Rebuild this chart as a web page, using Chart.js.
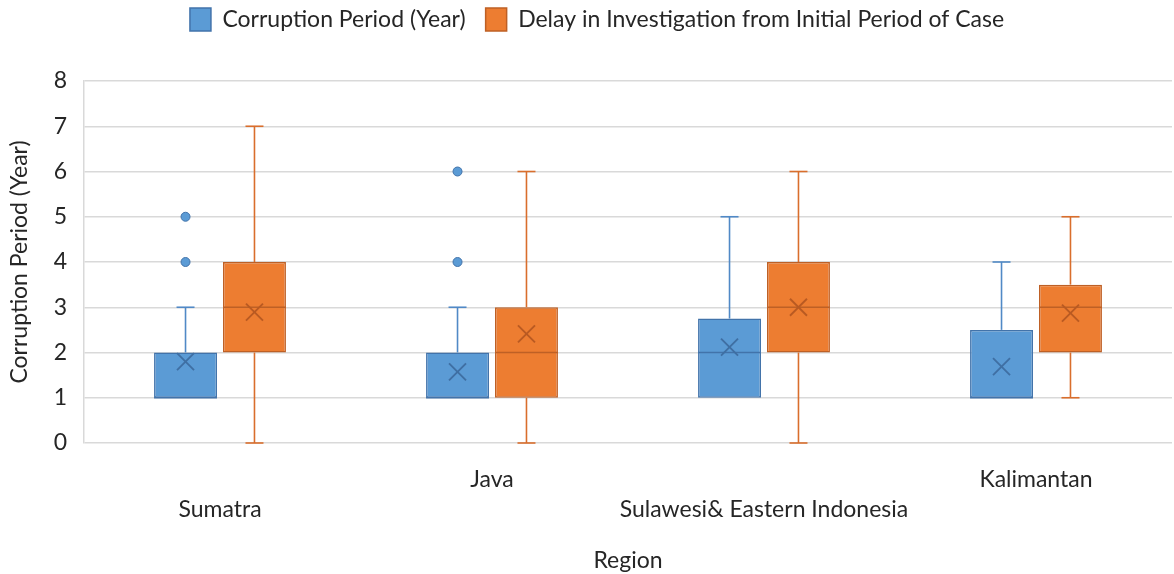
<!DOCTYPE html>
<html>
<head>
<meta charset="utf-8">
<title>Corruption Period and Investigation Delay by Region</title>
<script src="https://cdn.jsdelivr.net/npm/chart.js@4.4.1/dist/chart.umd.min.js"></script>
<style>
  html, body { margin: 0; padding: 0; background: #ffffff; }
  #wrap { width: 1174px; height: 574px; }
</style>
</head>
<body>
<div id="wrap"><canvas id="chart" width="1174" height="574"></canvas></div>
<script>
// Regions, with the axis labels staggered over two rows
const regions = ['Sumatra', 'Java', 'Sulawesi& Eastern Indonesia', 'Kalimantan'];
const regionTickLabels = [['', 'Sumatra'], ['Java', ''], ['', 'Sulawesi& Eastern Indonesia'], ['Kalimantan', '']];
const yTicks = [0, 1, 2, 3, 4, 5, 6, 7, 8];

// Corruption period (years): five-number summary, mean and outliers per region
const corruptionMin      = [1, 1, 1, 1];
const corruptionQ1       = [1, 1, 1, 1];
const corruptionMedian   = [1, 1, 2, 1];
const corruptionQ3       = [2, 2, 2.75, 2.5];
const corruptionMax      = [3, 3, 5, 4];
const corruptionMean     = [1.8, 1.57, 2.12, 1.69];
const corruptionOutliers = [[4, 5], [4, 6], [], []];

// Delay in investigation from the initial period of the case (years)
const delayMin      = [0, 0, 0, 1];
const delayQ1       = [2, 1, 2, 2];
const delayMedian   = [3, 2, 3, 3];
const delayQ3       = [4, 3, 4, 3.5];
const delayMax      = [7, 6, 6, 5];
const delayMean     = [2.89, 2.41, 3.0, 2.87];
const delayOutliers = [[], [], [], []];

const seriesNames = ['Corruption Period (Year)', 'Delay in Investigation from Initial Period of Case'];

const FONT = 'Lato, Carlito, Calibri, "Liberation Sans", sans-serif';
const FONT_SIZE = 23;
Chart.defaults.font.family = FONT;
Chart.defaults.color = '#404040';

const boxStats = [
  { min: corruptionMin, median: corruptionMedian, max: corruptionMax, mean: corruptionMean, outliers: corruptionOutliers,
    whisker: '#5089C6', edge: '#4273AA', cross: '#3F6FA3' },
  { min: delayMin, median: delayMedian, max: delayMax, mean: delayMean, outliers: delayOutliers,
    whisker: '#D96E2C', edge: '#BE6025', cross: '#B95A22' }
];

// Whiskers, caps, median line, mean cross and outlier dots on top of each box
const boxPlotMarks = {
  id: 'boxPlotMarks',
  afterDatasetsDraw(chart) {
    const { ctx, scales: { y } } = chart;
    const py = v => y.getPixelForValue(v);
    const seg = (x1, y1, x2, y2) => { ctx.beginPath(); ctx.moveTo(x1, y1); ctx.lineTo(x2, y2); ctx.stroke(); };
    chart.data.datasets.forEach((ds, di) => {
      const meta = chart.getDatasetMeta(di);
      if (!chart.isDatasetVisible(di)) return;
      const s = boxStats[di];
      meta.data.forEach((bar, i) => {
        const { x, width } = bar.getProps(['x', 'width'], true);
        const [q1, q3] = ds.data[i];
        const cap = 9;
        ctx.save();
        ctx.lineWidth = 1.6;
        ctx.strokeStyle = s.whisker;
        if (s.max[i] > q3) {
          seg(x, py(q3), x, py(s.max[i]));
          seg(x - cap, py(s.max[i]), x + cap, py(s.max[i]));
        }
        if (s.min[i] < q1) {
          seg(x, py(q1), x, py(s.min[i]));
          seg(x - cap, py(s.min[i]), x + cap, py(s.min[i]));
        }
        // median
        ctx.strokeStyle = s.edge;
        ctx.lineWidth = 1.6;
        seg(x - width / 2, py(s.median[i]), x + width / 2, py(s.median[i]));
        // mean cross
        const mx = 8.5, my = py(s.mean[i]);
        ctx.strokeStyle = s.cross;
        ctx.lineWidth = 1.8;
        seg(x - mx, my - mx, x + mx, my + mx);
        seg(x - mx, my + mx, x + mx, my - mx);
        // outliers
        ctx.fillStyle = ds.backgroundColor;
        ctx.strokeStyle = s.edge;
        ctx.lineWidth = 1;
        s.outliers[i].forEach(v => {
          ctx.beginPath();
          ctx.arc(x, py(v), 4.5, 0, Math.PI * 2);
          ctx.fill();
          ctx.stroke();
        });
        ctx.restore();
      });
    });
  }
};

// Fixed legend band height above the plot, nudged slightly right of centre
const legendBand = {
  id: 'legendBand',
  beforeLayout(chart) {
    const lg = chart.legend;
    if (lg && !lg.__fixedBand) {
      const fit = lg.fit.bind(lg);
      lg.fit = function () { fit(); this.height = 93; };
      lg.__fixedBand = true;
    }
  },
  afterLayout(chart) {
    const lg = chart.legend;
    if (lg) { lg.left += 11; lg.right += 11; }
  }
};

new Chart(document.getElementById('chart'), {
  type: 'bar',
  data: {
    labels: regionTickLabels,
    datasets: [
      {
        label: seriesNames[0],
        data: regions.map((_, i) => [corruptionQ1[i], corruptionQ3[i]]),
        backgroundColor: '#5B9BD5',
        borderColor: '#4273AA',
        borderWidth: 1.5,
        borderSkipped: false,
        categoryPercentage: 0.507,
        barPercentage: 0.913
      },
      {
        label: seriesNames[1],
        data: regions.map((_, i) => [delayQ1[i], delayQ3[i]]),
        backgroundColor: '#ED7D31',
        borderColor: '#BE6025',
        borderWidth: 1.5,
        borderSkipped: false,
        categoryPercentage: 0.507,
        barPercentage: 0.913
      }
    ]
  },
  options: {
    responsive: false,
    animation: false,
    layout: { padding: { top: -12, left: 0, right: 2, bottom: 0 } },
    plugins: {
      legend: {
        position: 'top',
        align: 'center',
        labels: {
          boxWidth: 21,
          boxHeight: 23,
          padding: 20,
          color: '#262626',
          font: { family: FONT, size: FONT_SIZE }
        }
      },
      tooltip: { enabled: false }
    },
    scales: {
      x: {
        offset: true,
        grid: { display: false, drawTicks: false },
        border: { display: false },
        ticks: {
          autoSkip: false,
          maxRotation: 0,
          minRotation: 0,
          padding: 22,
          color: '#262626',
          font: { family: FONT, size: FONT_SIZE, lineHeight: 1.3 }
        },
        title: {
          display: true,
          text: 'Region',
          color: '#262626',
          font: { family: FONT, size: FONT_SIZE },
          padding: { top: 4, bottom: 0 }
        },
        afterFit(scale) { scale.height = 131; }
      },
      y: {
        min: 0,
        max: 8,
        afterBuildTicks(scale) { scale.ticks = yTicks.map(v => ({ value: v })); },
        grid: { color: '#D9D9D9', lineWidth: 1.5, drawTicks: false },
        border: { display: true, color: '#D9D9D9', width: 1.5 },
        ticks: {
          padding: 17,
          color: '#262626',
          font: { family: FONT, size: FONT_SIZE }
        },
        title: {
          display: true,
          text: 'Corruption Period (Year)',
          color: '#262626',
          font: { family: FONT, size: FONT_SIZE },
          padding: { top: 6, bottom: 4 }
        },
        afterFit(scale) { scale.width = 84; }
      }
    }
  },
  plugins: [boxPlotMarks, legendBand]
});
</script>
</body>
</html>
